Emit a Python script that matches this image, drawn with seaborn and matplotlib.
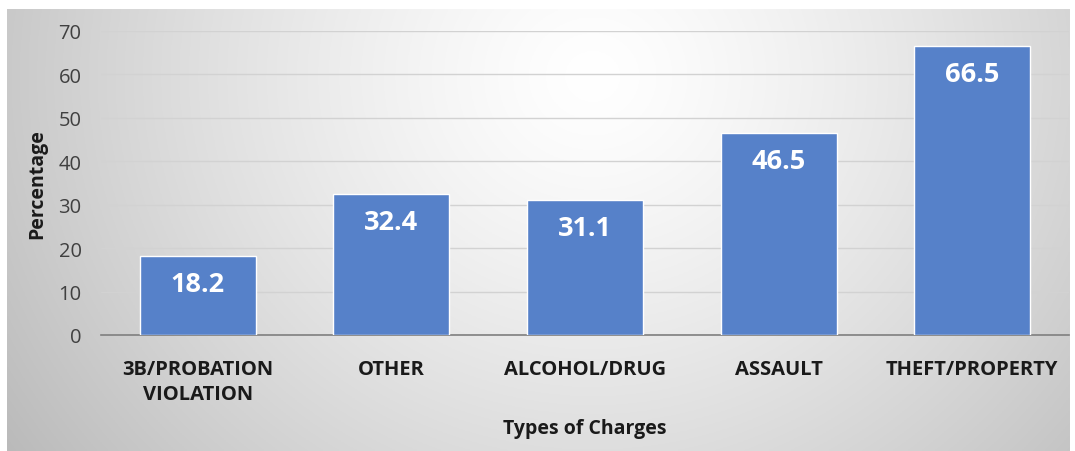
import numpy as np
import matplotlib
matplotlib.use("Agg")
import matplotlib.pyplot as plt
import seaborn as sns
import pandas as pd

categories = ["3B/PROBATION\nVIOLATION", "OTHER", "ALCOHOL/DRUG", "ASSAULT", "THEFT/PROPERTY"]
values = [18.2, 32.4, 31.1, 46.5, 66.5]
yticks = [0, 10, 20, 30, 40, 50, 60, 70]

sns.set_theme(style="white")
plt.rcParams['font.family'] = ['Open Sans', 'DejaVu Sans']

W, H = 1075, 452
fig = plt.figure(figsize=(W / 100, H / 100), dpi=100)
fig.patch.set_facecolor("white")

# radial gradient background panel
bg = fig.add_axes([7 / W, 0, (1070 - 7) / W, (H - 10) / H])
ny, nx = 200, 480
yy, xx = np.mgrid[0:ny, 0:nx]
cx, cy = nx * 0.55, ny * 0.15
r = np.sqrt(((xx - cx) / nx) ** 2 + ((yy - cy) / ny * 0.45) ** 2)
r = r / r.max()
val = 1.0 - 0.27 * r ** 1.3
img = np.dstack([val, val, val])
bg.imshow(img, aspect="auto", extent=[0, 1, 0, 1], origin="upper")
bg.axis("off")

ax = fig.add_axes([101 / W, (H - 336) / H, (1069 - 101) / W, (336 - 32) / H])
ax.patch.set_alpha(0)

df = pd.DataFrame({"cat": categories, "val": values})
sns.barplot(data=df, x="cat", y="val", color="#5681c9", saturation=1, width=0.6, ax=ax, zorder=3)

ax.set_ylim(0, 70)
ax.set_xlim(-0.5, len(categories) - 0.5)
ax.set_yticks(yticks)
ax.set_yticklabels([str(t) for t in yticks], fontsize=14.5, color="#404040")
ax.tick_params(axis="y", length=0, pad=14)
ax.tick_params(axis="x", length=0, pad=17)
for lbl in ax.get_xticklabels():
    lbl.set_fontweight("bold")
    lbl.set_fontsize(14.5)
    lbl.set_color("#1a1a1a")
    lbl.set_linespacing(1.35)
ax.yaxis.grid(True, color="#d2d2d2", linewidth=1, zorder=0)
ax.set_axisbelow(True)
for s in ["top", "right", "left"]:
    ax.spines[s].set_visible(False)
ax.spines["bottom"].set_color("#7f7f7f")
ax.spines["bottom"].set_linewidth(1.2)

for i, v in enumerate(values):
    ax.annotate(f"{v}", xy=(i, v), xytext=(0, -28), textcoords="offset pixels",
                ha="center", va="center", color="white", fontsize=19.5, fontweight="bold", zorder=5)

ax.set_ylabel("Percentage", fontsize=14, fontweight="bold", color="#1a1a1a")
ax.yaxis.set_label_coords((47 - 101) / 968, 0.5)
ax.set_xlabel("Types of Charges", fontsize=14, fontweight="bold", color="#1a1a1a")
ax.xaxis.set_label_coords(0.5, -(419 - 336) / 304)

fig.savefig("out.png", dpi=100)
